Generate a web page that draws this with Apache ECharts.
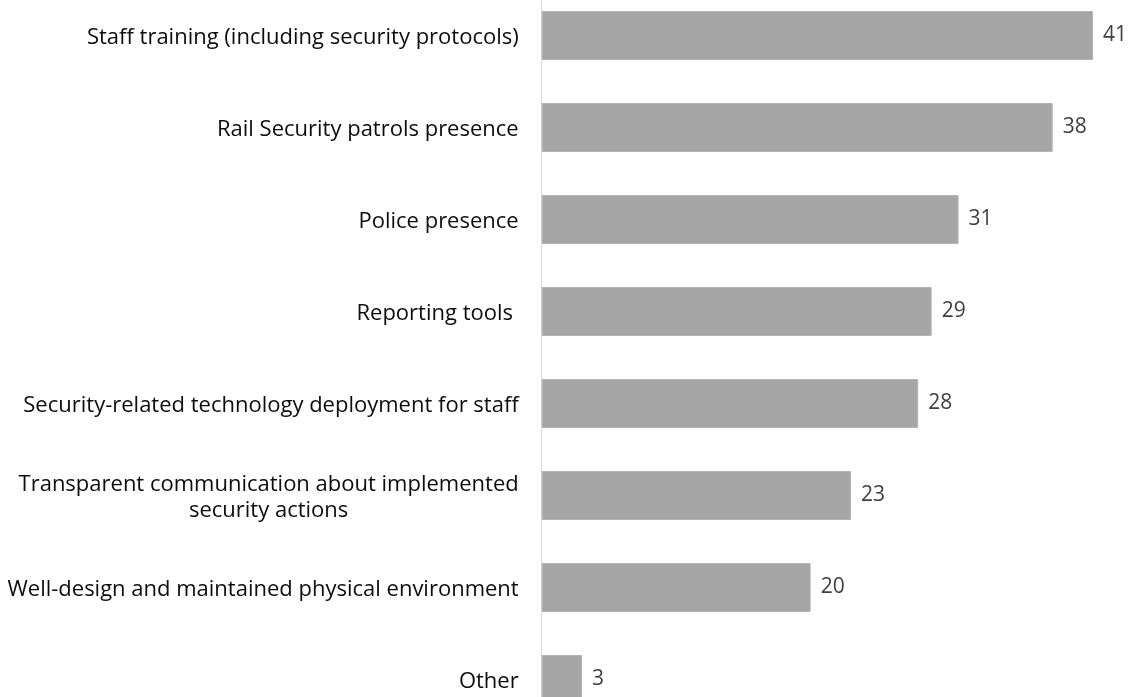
<!DOCTYPE html>
<html>
<head>
<meta charset="utf-8">
<script src="https://cdn.jsdelivr.net/npm/echarts@6/dist/echarts.min.js"></script>
<style>
  html, body { margin: 0; padding: 0; background: #ffffff; }
  #chart { width: 1131px; height: 697px; }
</style>
</head>
<body>
<div id="chart"></div>
<script>
// Survey measures, listed top to bottom
const categories = [
  'Staff training (including security protocols)',
  'Rail Security patrols presence',
  'Police presence',
  'Reporting tools ',
  'Security-related technology deployment for staff',
  'Transparent communication about implemented\nsecurity actions',
  'Well-design and maintained physical environment',
  'Other'
];
const values = [41, 38, 31, 29, 28, 23, 20, 3];

const FONT = '"Open Sans", sans-serif';

const chart = echarts.init(document.getElementById('chart'), null, { renderer: 'canvas' });

chart.setOption({
  animation: false,
  backgroundColor: '#ffffff',
  grid: {
    left: 541.7, right: 11.1, top: -10.5, bottom: -28.5,
    containLabel: false,
    outerBoundsMode: 'none'
  },
  xAxis: {
    type: 'value',
    min: 0,
    max: 43,
    show: false
  },
  yAxis: {
    type: 'category',
    inverse: true,
    data: categories,
    axisLine: { show: true, lineStyle: { color: '#d9d9d9', width: 1 } },
    axisTick: { show: false },
    splitLine: { show: false },
    axisLabel: {
      margin: 23,
      align: 'right',
      padding: [4, 0, 0, 0],
      formatter: v => v.split('\n').map(s => '{c|' + s + '}').join('\n'),
      rich: {
        c: {
          align: 'center',
          fontFamily: FONT,
          fontSize: 22,
          color: '#0d0d0d',
          lineHeight: 26
        }
      }
    }
  },
  series: [{
    type: 'bar',
    data: values,
    barWidth: 49,
    itemStyle: { color: '#a6a6a6', borderColor: '#b4b4b4', borderWidth: 1 },
    label: {
      show: true,
      position: 'right',
      distance: 10,
      fontFamily: FONT,
      fontSize: 21,
      color: '#404040',
      padding: [4, 0, 0, 0]
    }
  }]
});
</script>
</body>
</html>
